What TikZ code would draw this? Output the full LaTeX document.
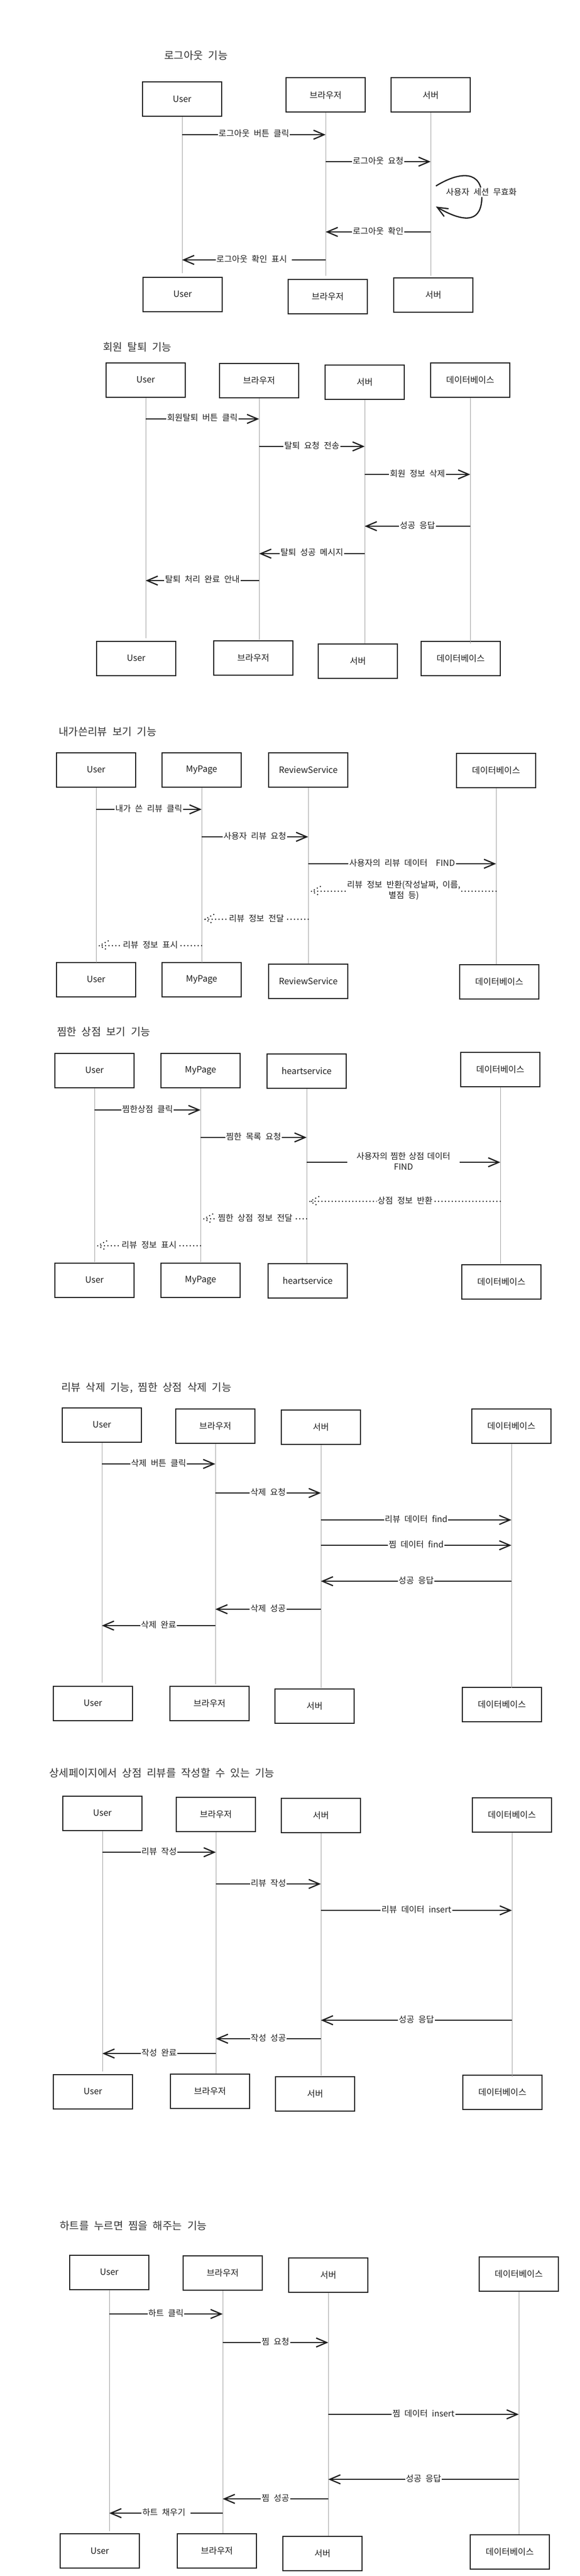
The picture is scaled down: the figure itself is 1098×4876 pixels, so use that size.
\documentclass[tikz,border=0pt]{standalone}
\usepackage{fontspec}
\setmainfont{Noto Sans CJK KR}[WordSpace=2.2]
\usetikzlibrary{arrows.meta,calc}
\definecolor{ink}{HTML}{1E1E1E}
\definecolor{lifec}{HTML}{A0A0A0}
\definecolor{titlec}{HTML}{333333}
\newcommand\lifel[2]{\draw[life] (#1.south) -- (#1 |- 0,#2);}
\newcommand\dret[4]{%
  \coordinate (tmpE) at ($(#2 |- 0,#3)+(6,0)$);
  \draw[dmsg] (#1 |- 0,#3) -- node[lbl]{#4} (tmpE);
  \draw[dmsg] ($(tmpE)+(17,-9)$) -- (tmpE) -- ($(tmpE)+(17,9)$);
}
\begin{document}
\begin{tikzpicture}[x=1pt,y=-1pt,
  actor/.style={draw=ink, line width=2pt, minimum width=150pt, minimum height=65pt,
    inner sep=0pt, text=ink, font=\fontsize{16.5}{20}\selectfont},
  life/.style={draw=lifec, line width=0.9pt},
  msg/.style={draw=ink, line width=2.3pt,
    -{Straight Barb[length=20pt,width=17pt,line width=2.3pt]}},
  dmsg/.style={draw=ink, line width=2.7pt, line cap=round, dash pattern=on 0pt off 6.5pt},
  lbl/.style={fill=white, inner sep=1.5pt, text=ink, align=center,
    font=\fontsize{16}{20}\selectfont, yshift=2pt},
  ttl/.style={anchor=west, inner sep=0pt, text=titlec, font=\fontsize{20}{24}\selectfont}]
\fill[white] (0,0) rectangle (1098,4876);
\useasboundingbox (0,0) rectangle (1098,4876);

% ===== Diagram 1 =====
\node[ttl] (T1) at (311,105) {로그아웃 기능};
\node[actor] (U1t) at (345,188) {User};
\node[actor] (B1t) at (617,180) {브라우저};
\node[actor] (S1t) at (816,180) {서버};
\node[actor] (U1b) at (346,557) {User};
\node[actor] (B1b) at (621,561) {브라우저};
\node[actor] (S1b) at (821,558) {서버};
\lifel{U1t}{517}\lifel{B1t}{522}\lifel{S1t}{522}
\draw[msg] (U1t |- 0,255) -- node[lbl]{로그아웃 버튼 클릭} (B1t |- 0,255);
\draw[msg] (B1t |- 0,306) -- node[lbl]{로그아웃 요청} (S1t |- 0,306);
\coordinate (L1a) at ($(S1t |- 0,352)+(10,0)$);
\coordinate (L1b) at ($(S1t |- 0,391)+(10,0)$);
\draw[msg] (L1a) .. controls (875,322) and (913,325) .. (913,372)
  .. controls (913,418) and (885,425) .. (L1b);
\node[lbl] (L1t) at (912,366) {사용자 세션 무효화};
\draw[msg] (S1t |- 0,439) -- node[lbl]{로그아웃 확인} (B1t |- 0,439);
\draw[msg] (B1t |- 0,492) -- node[lbl]{로그아웃 확인 표시\hspace{8pt}} (U1t |- 0,492);

% ===== Diagram 2 =====
\node[ttl] (T2) at (195,657) {회원 탈퇴 기능};
\node[actor] (U2t) at (276,719) {User};
\node[actor] (B2t) at (491,720) {브라우저};
\node[actor] (S2t) at (691,723) {서버};
\node[actor] (D2t) at (891,719) {데이터베이스};
\node[actor] (U2b) at (258,1246) {User};
\node[actor] (B2b) at (480,1245) {브라우저};
\node[actor] (S2b) at (678,1251) {서버};
\node[actor] (D2b) at (873,1246) {데이터베이스};
\lifel{U2t}{1208}\lifel{B2t}{1211}\lifel{S2t}{1218}\lifel{D2t}{1218}
\draw[msg] (U2t |- 0,793) -- node[lbl]{회원탈퇴 버튼 클릭} (B2t |- 0,793);
\draw[msg] (B2t |- 0,845) -- node[lbl]{탈퇴 요청 전송} (S2t |- 0,845);
\draw[msg] (S2t |- 0,898) -- node[lbl]{회원 정보 삭제} (D2t |- 0,898);
\draw[msg] (D2t |- 0,996) -- node[lbl]{성공 응답} (S2t |- 0,996);
\draw[msg] (S2t |- 0,1048) -- node[lbl]{탈퇴 성공 메시지} (B2t |- 0,1048);
\draw[msg] (B2t |- 0,1099) -- node[lbl]{탈퇴 처리 완료 안내} (U2t |- 0,1099);

% ===== Diagram 3 =====
\node[ttl] (T3) at (111,1385) {내가쓴리뷰 보기 기능};
\node[actor] (U3t) at (182,1457) {User};
\node[actor] (M3t) at (382,1457) {MyPage};
\node[actor] (R3t) at (584,1457) {ReviewService};
\node[actor] (D3t) at (940,1458) {데이터베이스};
\node[actor] (U3b) at (182,1854) {User};
\node[actor] (M3b) at (382,1854) {MyPage};
\node[actor] (R3b) at (584,1857) {ReviewService};
\node[actor] (D3b) at (946,1858) {데이터베이스};
\lifel{U3t}{1822}\lifel{M3t}{1822}\lifel{R3t}{1824}\lifel{D3t}{1825}
\draw[msg] (U3t |- 0,1532) -- node[lbl]{내가 쓴 리뷰 클릭} (M3t |- 0,1532);
\draw[msg] (M3t |- 0,1584) -- node[lbl]{사용자 리뷰 요청} (R3t |- 0,1584);
\draw[msg] (R3t |- 0,1635) -- node[lbl]{사용자의 리뷰 데이터 \ FIND} (D3t |- 0,1635);
\dret{D3t}{R3t}{1687}{리뷰 정보 반환(작성날짜, 이름,\\별점 등)}
\dret{R3t}{M3t}{1740}{리뷰 정보 전달}
\dret{M3t}{U3t}{1790}{리뷰 정보 표시}

% ===== Diagram 4 =====
\node[ttl] (T4) at (108,1953) {찜한 상점 보기 기능};
\node[actor] (U4t) at (179,2026) {User};
\node[actor] (M4t) at (380,2026) {MyPage};
\node[actor] (H4t) at (581,2027) {heartservice};
\node[actor] (D4t) at (948,2024) {데이터베이스};
\node[actor] (U4b) at (179,2423) {User};
\node[actor] (M4b) at (380,2423) {MyPage};
\node[actor] (H4b) at (583,2424) {heartservice};
\node[actor] (D4b) at (950,2426) {데이터베이스};
\lifel{U4t}{2389}\lifel{M4t}{2389}\lifel{H4t}{2391}\lifel{D4t}{2392}
\draw[msg] (U4t |- 0,2101) -- node[lbl]{찜한상점 클릭} (M4t |- 0,2101);
\draw[msg] (M4t |- 0,2153) -- node[lbl]{찜한 목록 요청} (H4t |- 0,2153);
\draw[msg] (H4t |- 0,2200) -- node[lbl, text width=210pt]{사용자의 찜한 상점 데이터\\FIND} (D4t |- 0,2200);
\dret{D4t}{H4t}{2274}{상점 정보 반환}
\dret{H4t}{M4t}{2307}{찜한 상점 정보 전달}
\dret{M4t}{U4t}{2358}{리뷰 정보 표시}

% ===== Diagram 5 =====
\node[ttl] (T5) at (116,2627) {리뷰 삭제 기능, 찜한 상점 삭제 기능};
\node[actor] (U5t) at (193,2697) {User};
\node[actor] (B5t) at (408,2699) {브라우저};
\node[actor] (S5t) at (608,2701) {서버};
\node[actor] (D5t) at (969,2699) {데이터베이스};
\node[actor] (U5b) at (176,3224) {User};
\node[actor] (B5b) at (397,3224) {브라우저};
\node[actor] (S5b) at (596,3229) {서버};
\node[actor] (D5b) at (951,3226) {데이터베이스};
\lifel{U5t}{3185}\lifel{B5t}{3188}\lifel{S5t}{3195}\lifel{D5t}{3195}
\draw[msg] (U5t |- 0,2771) -- node[lbl]{삭제 버튼 클릭} (B5t |- 0,2771);
\draw[msg] (B5t |- 0,2826) -- node[lbl]{삭제 요청} (S5t |- 0,2826);
\draw[msg] (S5t |- 0,2877) -- node[lbl]{리뷰 데이터 find} (D5t |- 0,2877);
\draw[msg] (S5t |- 0,2925) -- node[lbl]{찜 데이터 find} (D5t |- 0,2925);
\draw[msg] (D5t |- 0,2993) -- node[lbl]{성공 응답} (S5t |- 0,2993);
\draw[msg] (S5t |- 0,3046) -- node[lbl]{삭제 성공} (B5t |- 0,3046);
\draw[msg] (B5t |- 0,3077) -- node[lbl]{삭제 완료} (U5t |- 0,3077);

% ===== Diagram 6 =====
\node[ttl] (T6) at (93,3356) {상세페이지에서 상점 리뷰를 작성할 수 있는 기능};
\node[actor] (U6t) at (194,3432) {User};
\node[actor] (B6t) at (409,3434) {브라우저};
\node[actor] (S6t) at (608,3436) {서버};
\node[actor] (D6t) at (970,3435) {데이터베이스};
\node[actor] (U6b) at (176,3959) {User};
\node[actor] (B6b) at (398,3958) {브라우저};
\node[actor] (S6b) at (597,3963) {서버};
\node[actor] (D6b) at (952,3960) {데이터베이스};
\lifel{U6t}{3921}\lifel{B6t}{3925}\lifel{S6t}{3929}\lifel{D6t}{3931}
\draw[msg] (U6t |- 0,3506) -- node[lbl]{리뷰 작성} (B6t |- 0,3506);
\draw[msg] (B6t |- 0,3566) -- node[lbl]{리뷰 작성} (S6t |- 0,3566);
\draw[msg] (S6t |- 0,3616) -- node[lbl]{리뷰 데이터 insert} (D6t |- 0,3616);
\draw[msg] (D6t |- 0,3824) -- node[lbl]{성공 응답} (S6t |- 0,3824);
\draw[msg] (S6t |- 0,3859) -- node[lbl]{작성 성공} (B6t |- 0,3859);
\draw[msg] (B6t |- 0,3887) -- node[lbl]{작성 완료} (U6t |- 0,3887);

% ===== Diagram 7 =====
\node[ttl] (T7) at (113,4213) {하트를 누르면 찜을 해주는 기능};
\node[actor] (U7t) at (207,4301) {User};
\node[actor] (B7t) at (422,4302) {브라우저};
\node[actor] (S7t) at (622,4306) {서버};
\node[actor] (D7t) at (983,4304) {데이터베이스};
\node[actor] (U7b) at (189,4828) {User};
\node[actor] (B7b) at (411,4828) {브라우저};
\node[actor] (S7b) at (611,4833) {서버};
\node[actor] (D7b) at (966,4830) {데이터베이스};
\lifel{U7t}{4791}\lifel{B7t}{4795}\lifel{S7t}{4800}\lifel{D7t}{4797}
\draw[msg] (U7t |- 0,4380) -- node[lbl]{하트 클릭} (B7t |- 0,4380);
\draw[msg] (B7t |- 0,4434) -- node[lbl]{찜 요청} (S7t |- 0,4434);
\draw[msg] (S7t |- 0,4570) -- node[lbl]{찜 데이터 insert} (D7t |- 0,4570);
\draw[msg] (D7t |- 0,4693) -- node[lbl]{성공 응답} (S7t |- 0,4693);
\draw[msg] (S7t |- 0,4730) -- node[lbl]{찜 성공} (B7t |- 0,4730);
\draw[msg] (B7t |- 0,4757) -- node[lbl]{하트 채우기\hspace{8pt}} (U7t |- 0,4757);
\end{tikzpicture}
\end{document}
